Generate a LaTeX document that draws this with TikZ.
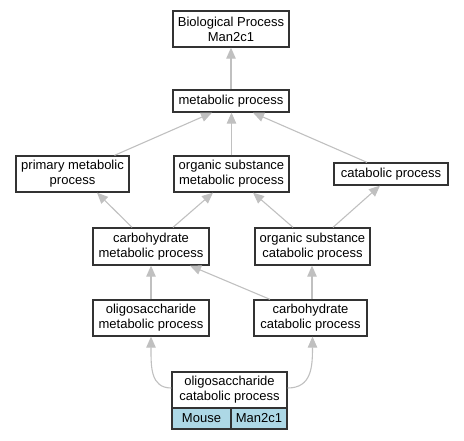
\documentclass[tikz,border=0pt]{standalone}
\usepackage{fontspec}
\setmainfont{Liberation Sans}
\usetikzlibrary{arrows.meta}
\definecolor{edgegray}{HTML}{C0C0C0}
\definecolor{boxline}{HTML}{333333}
\definecolor{lblue}{HTML}{ADD8E6}
\begin{document}
\begin{tikzpicture}[x=1pt,y=-1pt,
  box/.style={draw=boxline, line width=1.3pt, fill=white, align=center, inner sep=0pt,
    font=\fontsize{13}{15}\selectfont},
  box2/.style={box, minimum height=36pt},
  box1/.style={box, minimum height=22pt},
  sub/.style={box, fill=lblue, minimum height=21pt},
  edge/.style={draw=edgegray, line width=1.1pt, -{Triangle[length=11pt,width=9.5pt]}}]
\useasboundingbox (0,0) rectangle (464,440);
\node[box2, minimum width=116pt] (bp) at (231,29) {Biological Process\\Man2c1};
\node[box1, minimum width=116pt] (met) at (231,101) {metabolic process};
\node[box2, minimum width=113pt] (prim) at (72.5,174) {primary metabolic\\process};
\node[box2, minimum width=115pt] (osm) at (231.5,174) {organic substance\\metabolic process};
\node[box1, minimum width=114pt] (cat) at (391,174) {catabolic process};
\node[box2, minimum width=116pt, minimum height=37pt] (cm) at (151,246.5) {carbohydrate\\metabolic process};
\node[box2, minimum width=115pt, minimum height=37pt] (osc) at (312.5,246.5) {organic substance\\catabolic process};
\node[box2, minimum width=116pt] (om) at (151,318) {oligosaccharide\\metabolic process};
\node[box2, minimum width=113pt] (cc) at (310.5,318) {carbohydrate\\catabolic process};
\node[box2, minimum width=115pt] (oc) at (229.5,390) {oligosaccharide\\catabolic process};
\node[sub, minimum width=59pt] (mouse) at (201.5,418.5) {Mouse};
\node[sub, minimum width=56pt] (gene) at (259,418.5) {Man2c1};
\draw[edge] (met.north) -- (bp.south);
\draw[edge] (osm.north) -- ([xshift=0.5pt]met.south);
\draw[edge] ([xshift=42pt]prim.north) -- ([xshift=-19pt]met.south);
\draw[edge] ([xshift=-24pt]cat.north) -- ([xshift=22pt]met.south);
\draw[edge] ([xshift=-19pt]cm.north) -- ([xshift=24.5pt]prim.south);
\draw[edge] ([xshift=22pt]cm.north) -- ([xshift=-18.5pt]osm.south);
\draw[edge] ([xshift=-19.5pt]osc.north) -- ([xshift=21.5pt]osm.south);
\draw[edge] ([xshift=20.5pt]osc.north) -- ([xshift=-11pt]cat.south);
\draw[edge] (om.north) -- (cm.south);
\draw[edge] ([xshift=-40.5pt]cc.north) -- ([xshift=39pt]cm.south);
\draw[edge] ([xshift=1.5pt]cc.north) -- ([xshift=-0.5pt]osc.south);
\draw[edge] ([yshift=2pt]oc.west) .. controls ([xshift=-21pt,yshift=2pt]oc.west) and ([yshift=-30pt]om.south) .. (om.south);
\draw[edge] ([yshift=2pt]oc.east) .. controls ([xshift=24pt,yshift=2pt]oc.east) and ([xshift=2pt,yshift=-30pt]cc.south) .. ([xshift=2pt]cc.south);
\end{tikzpicture}
\end{document}
